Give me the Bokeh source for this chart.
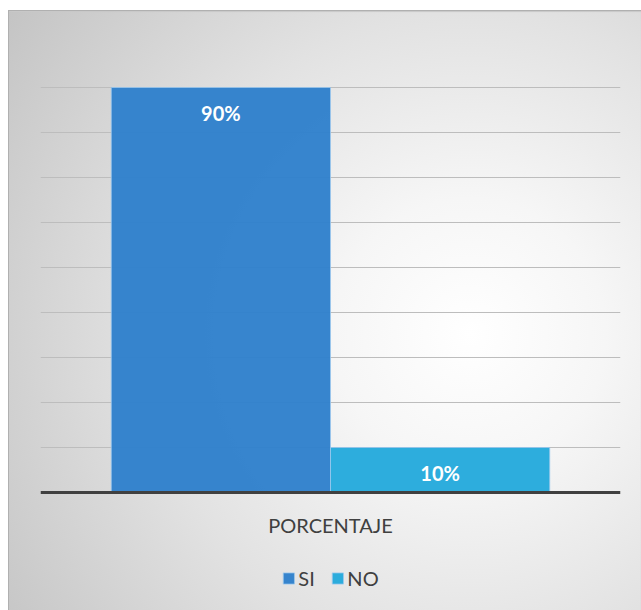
from bokeh.plotting import figure
from bokeh.models import (ColumnDataSource, FactorRange, Range1d, FixedTicker,
                          Legend, LegendItem, Span)
from bokeh.transform import dodge
from bokeh.core.properties import value
from bokeh.embed import file_html
from bokeh.resources import INLINE

# Survey result, one category split into two answers
categories = ["PORCENTAJE"]
series = ["SI", "NO"]
percentages = [90, 10]
series_colors = ["#2f80cc", "#24aadc"]
grid_ticks = [10, 20, 30, 40, 50, 60, 70, 80, 90, 100]

FONT = "Lato"
TEXT_COLOR = "#404040"

# the frame reaches below zero so the category label and legend live inside it
p = figure(
    x_range=FactorRange(*categories, range_padding=0),
    y_range=Range1d(-24, 100),
    width=633, height=600,
    output_backend="svg", toolbar_location=None,
    min_border_left=32, min_border_right=21,
    min_border_top=32, min_border_bottom=10,
)
p.margin = (10, 0, 0, 8)
p.background_fill_color = None
p.border_fill_color = None
p.outline_line_color = None
p.styles = {
    "background": "radial-gradient(circle at 73% 54%, #ffffff 0%, #f6f6f6 24%, "
                  "#e2e2e2 57%, #cbcbcb 90%, #c4c4c4 100%)",
    "box-shadow": "inset 1px 1px 0 #b0b0b0, inset 0 2px 1px #c8c8c8",
}

bar_width = 0.378
offsets = [-bar_width / 2, bar_width / 2]

items = []
for name, val, color, off in zip(series, percentages, series_colors, offsets):
    src = ColumnDataSource(dict(cat=categories, val=[val], label=[f"{val}%"]))
    r = p.vbar(x=dodge("cat", off, range=p.x_range), top="val", width=bar_width,
               source=src, fill_color=color, fill_alpha=0.96,
               line_color="#9cc8ee", line_width=1, line_alpha=0.8)
    p.text(x=dodge("cat", off, range=p.x_range), y="val", text="label", source=src,
           text_align="center", text_baseline="middle", y_offset=25,
           text_color="white", text_font=value(FONT), text_font_style="bold",
           text_font_size="20px")
    items.append(LegendItem(label=name, renderers=[r]))

# horizontal gridlines every 10 %, no visible axes
p.axis.visible = False
p.ygrid.ticker = FixedTicker(ticks=grid_ticks)
p.ygrid.grid_line_color = "#bdbdbd"
p.ygrid.grid_line_width = 1
p.xgrid.visible = False

# category baseline at zero
p.add_layout(Span(location=0, dimension="width", line_color=TEXT_COLOR,
                  line_width=3))

# category label under the baseline
cat_src = ColumnDataSource(dict(cat=categories, base=[0] * len(categories)))
p.text(x="cat", y="base", text="cat", source=cat_src, y_offset=32,
       text_align="center", text_baseline="middle", text_color=TEXT_COLOR,
       text_font=value(FONT), text_font_size="20px")

legend = Legend(items=items, orientation="horizontal", location="bottom_center",
                border_line_color=None, background_fill_alpha=0,
                label_text_font=FONT, label_text_font_size="20px",
                label_text_color=TEXT_COLOR, glyph_width=14, glyph_height=14,
                spacing=12, label_standoff=3, margin=10, padding=4)
p.add_layout(legend)

open("out.html", "w").write(file_html(p, INLINE))
